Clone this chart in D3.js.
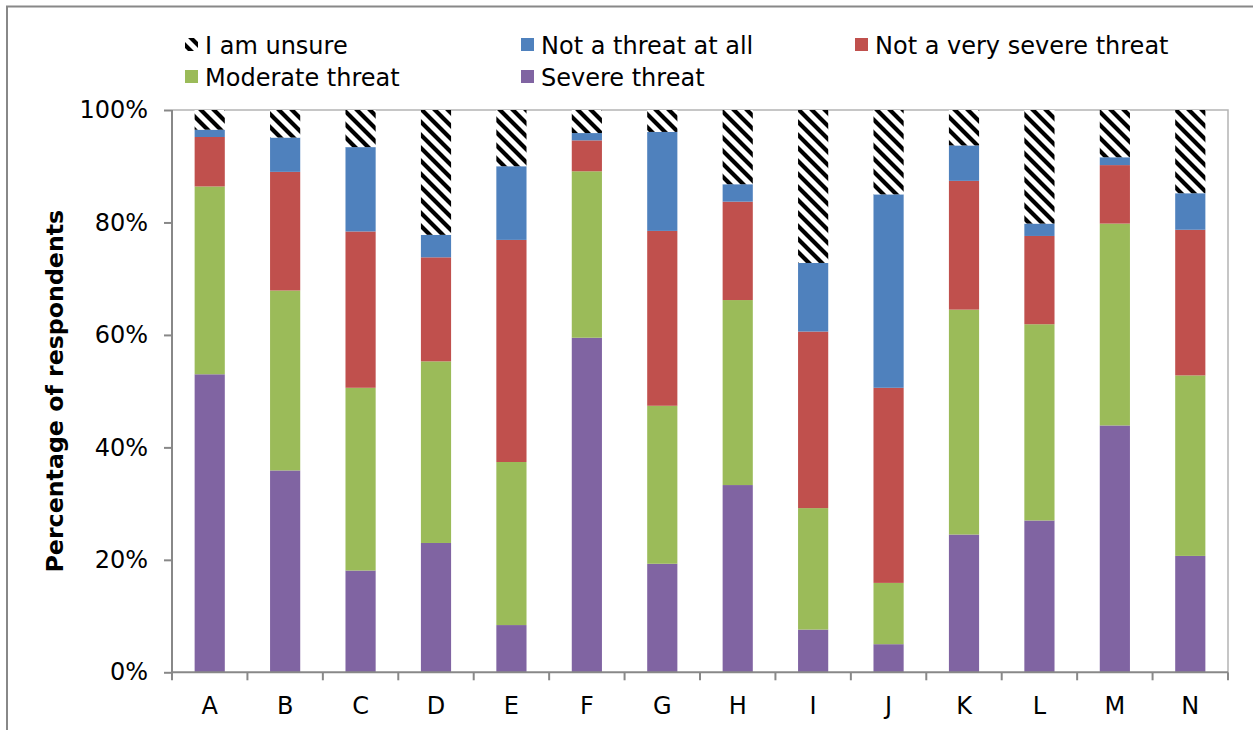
<!DOCTYPE html>
<html><head><meta charset="utf-8">
<script src="https://cdn.jsdelivr.net/npm/d3@7"></script>
<style>body{margin:0;background:#fff}svg{display:block;font-family:"DejaVu Sans",Verdana,sans-serif}</style>
</head><body><svg id="c" width="1253" height="730"></svg>
<script>
const categories = ["A","B","C","D","E","F","G","H","I","J","K","L","M","N"];
const severe   = [53.0,35.9,18.1,23.0, 8.4,59.5,19.3,33.3, 7.6, 5.0,24.5,27.0,43.9,20.7];
const moderate = [33.4,32.0,32.5,32.3,29.0,29.6,28.1,32.9,21.6,10.9,40.0,34.9,35.9,32.1];
const notVery  = [ 8.8,21.1,27.8,18.5,39.5, 5.5,31.1,17.5,31.4,34.7,22.9,15.7,10.4,25.9];
const notAtAll = [ 1.3, 6.1,15.0, 4.0,13.1, 1.3,17.6, 3.1,12.2,34.4, 6.3, 2.2, 1.4, 6.5];
const unsure   = [ 3.5, 4.9, 6.6,22.2,10.0, 4.1, 3.9,13.2,27.2,15.0, 6.3,20.2, 8.4,14.8];
const yTicks = [0,20,40,60,80,100];
const seriesNames = ["Severe threat","Moderate threat","Not a very severe threat","Not a threat at all","I am unsure"];
const seriesColors = ["#8064A2","#9BBB59","#C0504D","#4F81BD","url(#hatch)"];
const legendOrder = ["I am unsure","Not a threat at all","Not a very severe threat","Moderate threat","Severe threat"];

const svg = d3.select("#c");
const defs = svg.append("defs");
const pat = defs.append("pattern").attr("id","hatch").attr("patternUnits","userSpaceOnUse")
  .attr("width",13).attr("height",13);
pat.append("rect").attr("width",13).attr("height",13).attr("fill","#fff");
pat.append("path").attr("d","M-2,-2L15,15M-4,9L4,17M9,-4L17,4").attr("stroke","#000").attr("stroke-width",4.2);

// outer frame
svg.append("path").attr("d","M7,740V6.5H1260").attr("fill","none").attr("stroke","#888").attr("stroke-width",2);

const L=172,R=1228,T=110,B=672.3;
const x = d3.scaleBand().domain(categories).range([L,R]).paddingInner(0.6).paddingOuter(0.3);
const xb = d3.scaleBand().domain(categories).range([L,R]);
const y = d3.scaleLinear().domain([0,100]).range([B,T]);

// plot frame (top/right)
svg.append("path").attr("d",`M${L},${T}H${R}V${B}`).attr("fill","none").attr("stroke","#b4b4b4").attr("stroke-width",1.5);

const rows = categories.map((c,i)=>({cat:c,"Severe threat":severe[i],"Moderate threat":moderate[i],
  "Not a very severe threat":notVery[i],"Not a threat at all":notAtAll[i],"I am unsure":unsure[i]}));
const stack = d3.stack().keys(seriesNames)(rows);
stack.forEach((s,k)=>{
  svg.append("g").selectAll("rect").data(s).join("rect")
    .attr("x",d=>x(d.data.cat)).attr("width",x.bandwidth())
    .attr("y",d=>y(k===4?100:d[1])).attr("height",d=>y(d[0])-y(k===4?100:d[1]))
    .attr("fill",seriesColors[k]);
});

// y axis
const ya = svg.append("g").attr("transform",`translate(${L},0)`)
  .call(d3.axisLeft(y).tickValues(yTicks).tickFormat(d=>d+"%").tickSize(8).tickPadding(16));
ya.selectAll("path,line").attr("stroke","#888").attr("stroke-width",2);
ya.select(".domain").attr("d",`M0,${B}V${T}`);
ya.selectAll("text").attr("font-size",24).attr("fill","#000").attr("font-family","DejaVu Sans");

// x axis
const xa = svg.append("g").attr("transform",`translate(0,${B})`)
  .call(d3.axisBottom(xb).tickSize(0).tickPadding(25));
xa.select(".domain").attr("stroke","#888").attr("stroke-width",2).attr("d",`M${L},0H${R}`);
xa.selectAll("text").attr("font-size",24).attr("fill","#000").attr("font-family","DejaVu Sans");
xa.append("g").selectAll("line").data(d3.range(categories.length+1)).join("line")
  .attr("x1",i=>L+i*xb.step()).attr("x2",i=>L+i*xb.step()).attr("y1",0).attr("y2",8)
  .attr("stroke","#888").attr("stroke-width",2);

// y title
svg.append("text").attr("transform",`translate(63,${(T+B)/2}) rotate(-90)`)
  .attr("text-anchor","middle").attr("font-size",23.7).attr("font-weight","bold").text("Percentage of respondents");

// legend
const legPos = [[185,45],[521,45],[855,45],[185,77],[521,77]];
legendOrder.forEach((n,i)=>{
  const k = seriesNames.indexOf(n);
  const g = svg.append("g").attr("transform",`translate(${legPos[i][0]},${legPos[i][1]})`);
  g.append("rect").attr("x",0).attr("y",-7).attr("width",13).attr("height",13).attr("fill",seriesColors[k]);
  g.append("text").attr("x",20).attr("y",8.5).attr("font-size",24).text(n);
});
</script></body></html>
